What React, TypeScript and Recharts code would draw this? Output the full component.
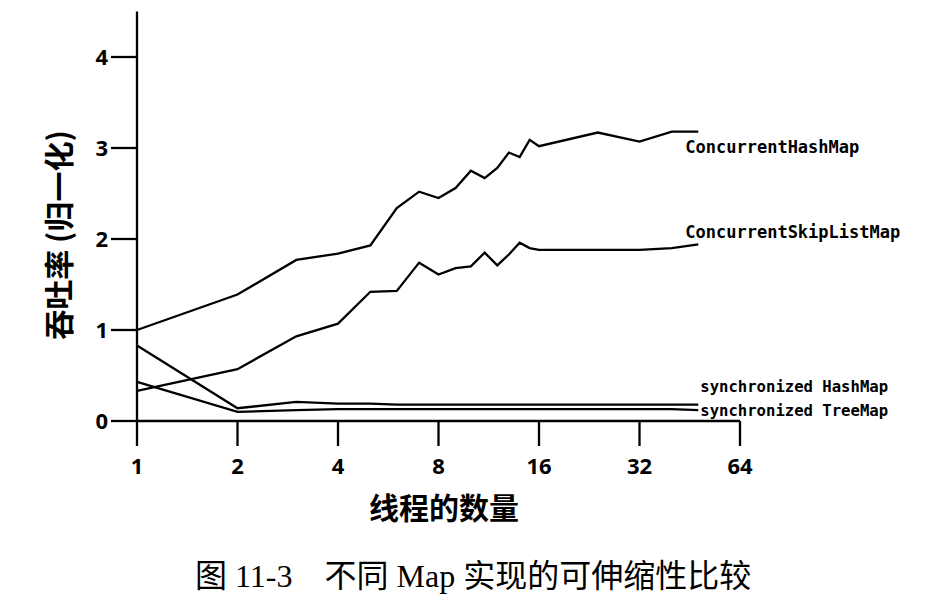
import { LineChart, Line, XAxis, YAxis, LabelList } from 'recharts';

// thread counts (x) and normalised throughput for each map implementation
const threads = [1, 2, 3, 4, 5, 6, 7, 8, 9, 10, 11, 12, 13, 14, 15, 16, 24, 32, 40, 48];
const concurrentHashMap = [1.0, 1.39, 1.77, 1.84, 1.93, 2.34, 2.52, 2.45, 2.56, 2.75, 2.67, 2.78, 2.95, 2.9, 3.09, 3.02, 3.17, 3.07, 3.18, 3.18];
const concurrentSkipListMap = [0.33, 0.57, 0.93, 1.07, 1.42, 1.43, 1.74, 1.61, 1.68, 1.7, 1.85, 1.71, 1.83, 1.96, 1.9, 1.88, 1.88, 1.88, 1.9, 1.94];
const synchronizedHashMap = [0.83, 0.14, 0.21, 0.19, 0.19, 0.18, 0.18, 0.18, 0.18, 0.18, 0.18, 0.18, 0.18, 0.18, 0.18, 0.18, 0.18, 0.18, 0.18, 0.18];
const synchronizedTreeMap = [0.43, 0.1, 0.12, 0.13, 0.13, 0.13, 0.13, 0.13, 0.13, 0.13, 0.13, 0.13, 0.13, 0.13, 0.13, 0.13, 0.13, 0.13, 0.13, 0.12];

const xTicks = [1, 2, 4, 8, 16, 32, 64];
const yTicks = [0, 1, 2, 3, 4];

const data = threads.map((t, i) => ({
  threads: t,
  chm: concurrentHashMap[i],
  cslm: concurrentSkipListMap[i],
  shm: synchronizedHashMap[i],
  stm: synchronizedTreeMap[i],
}));

const last = threads.length - 1;
const monoFont = "'DejaVu Sans Mono', monospace";
const tickFont = { fontFamily: "'Open Sans', sans-serif", fontSize: 22, fontWeight: 700, fill: '#000' };

function endLabel(text: string, dx: number, dy: number, size: number) {
  return (props: any) => {
    if (props.index !== last) return null;
    const x = props.x ?? props.viewBox?.x;
    const y = props.y ?? props.viewBox?.y;
    return (
      <text x={x + dx} y={y + dy} fontFamily={monoFont} fontSize={size} fontWeight="bold" fill="#000">
        {text}
      </text>
    );
  };
}

export default function App() {
  const axisStroke = { stroke: '#000', strokeWidth: 2.3 };
  return (
    <div style={{ position: 'absolute', left: 0, top: 0, width: 945, height: 612, background: '#fff' }}>
      <LineChart width={945} height={612} data={data} margin={{ top: 11.5, right: 205, bottom: 131, left: 37 }}>
        <XAxis
          type="number"
          dataKey="threads"
          scale="log"
          domain={[1, 64]}
          ticks={xTicks}
          height={60}
          tickSize={25}
          tickMargin={12}
          axisLine={axisStroke}
          tickLine={axisStroke}
          tick={tickFont}
        />
        <YAxis
          type="number"
          domain={[0, 4.5]}
          ticks={yTicks}
          width={100}
          tickSize={26}
          tickMargin={3}
          axisLine={axisStroke}
          tickLine={axisStroke}
          tick={tickFont}
        />
        <Line type="linear" dataKey="chm" stroke="#000" strokeWidth={2.3} dot={false} activeDot={false} isAnimationActive={false}>
          <LabelList dataKey="chm" content={endLabel('ConcurrentHashMap', -13, 21, 17)} />
        </Line>
        <Line type="linear" dataKey="cslm" stroke="#000" strokeWidth={2.3} dot={false} activeDot={false} isAnimationActive={false}>
          <LabelList dataKey="cslm" content={endLabel('ConcurrentSkipListMap', -13, -6.5, 17)} />
        </Line>
        <Line type="linear" dataKey="shm" stroke="#000" strokeWidth={2.3} dot={false} activeDot={false} isAnimationActive={false}>
          <LabelList dataKey="shm" content={endLabel('synchronized HashMap', 2, -12.5, 15.6)} />
        </Line>
        <Line type="linear" dataKey="stm" stroke="#000" strokeWidth={2.3} dot={false} activeDot={false} isAnimationActive={false}>
          <LabelList dataKey="stm" content={endLabel('synchronized TreeMap', 2, 6, 15.6)} />
        </Line>
      </LineChart>
      <svg width={945} height={612} style={{ position: 'absolute', left: 0, top: 0, pointerEvents: 'none' }}>
        <text
          transform="translate(57,235) rotate(-90)"
          textAnchor="middle"
          dominantBaseline="central"
          fontFamily="'Noto Sans CJK SC', sans-serif"
          fontSize={30}
          fontWeight="bold"
          fill="#000"
        >
          吞吐率 (归一化)
        </text>
        <text
          x={444}
          y={506}
          textAnchor="middle"
          dominantBaseline="central"
          fontFamily="'Noto Sans CJK SC', sans-serif"
          fontSize={30}
          fontWeight="bold"
          fill="#000"
        >
          线程的数量
        </text>
        <text
          x={195}
          y={587}
          xmlSpace="preserve"
          style={{ whiteSpace: 'pre' }}
          fontFamily="'Liberation Serif', 'Noto Sans CJK SC', serif"
          fontSize={32}
          fill="#000"
        >
          {'图 11-3\u3000不同 Map 实现的可伸缩性比较'}
        </text>
      </svg>
    </div>
  );
}
